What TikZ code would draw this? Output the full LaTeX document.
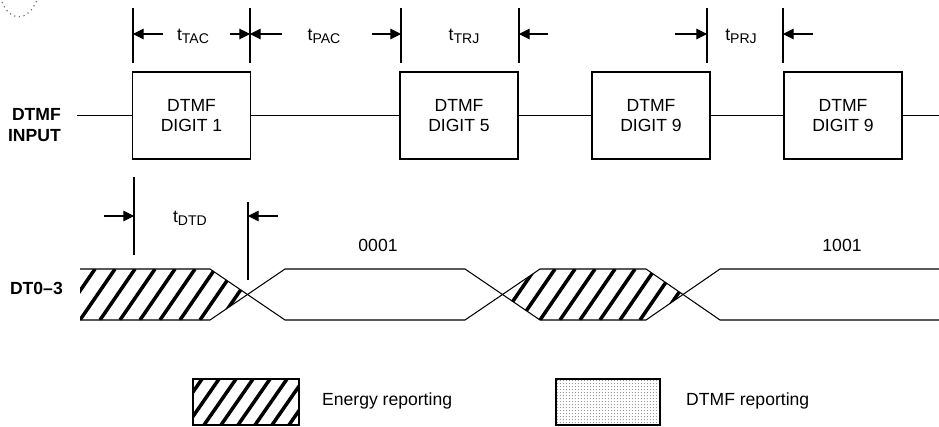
\documentclass[tikz,border=0pt]{standalone}
\usepackage{fontspec}
\setmainfont{Liberation Sans}
\usetikzlibrary{arrows.meta,patterns}
\pgfdeclarepatternformonly{finedots}{\pgfpointorigin}{\pgfpoint{1.8pt}{1.8pt}}{\pgfpoint{1.8pt}{1.8pt}}{\pgfpathcircle{\pgfpoint{0.9pt}{0.9pt}}{0.35pt}\pgfusepath{fill}}
\newcommand{\tsub}[1]{t\raisebox{-0.35ex}{\fontsize{8}{9}\selectfont #1}}

\begin{document}
\begin{tikzpicture}[x=0.02cm,y=-0.02cm,
    font=\fontsize{10}{11.5}\selectfont,
    lbl/.style={font=\bfseries\fontsize{10}{11.5}\selectfont,anchor=east,align=right},
    digit/.style={draw,line width=0.6pt,minimum width=2.36cm,minimum height=1.74cm,align=center},
    dimarr/.style={-{Triangle[length=6pt,width=6pt]},line width=0.6pt},
    sig/.style={line width=0.6pt},
    hatch/.style={line width=2pt}]
    \useasboundingbox (0,0) rectangle (939,426);
    \draw[dotted,line width=0.7pt,black!55] (2,2) .. controls (10,22) and (28,22) .. (37,0);
    % dtmf input
    \node[lbl] (inlbl) at (67,125) {DTMF\\INPUT};
    \node[digit] (d1) at (191.5,115.5) {DTMF\\DIGIT 1};
    \node[digit] (d5) at (459,115.5) {DTMF\\DIGIT 5};
    \node[digit] (d9a) at (651,115.5) {DTMF\\DIGIT 9};
    \node[digit] (d9b) at (843,115.5) {DTMF\\DIGIT 9};
    \coordinate (in) at (77,115.5);
    \coordinate (out) at (939,115.5);
    \draw[sig] (in) -- (d1) -- (d5) -- (d9a) -- (d9b) -- (out);
    \foreach \x in {133,250,401,519,707,783}{
    \draw[sig] (\x,8) -- (\x,63);
    }
    \foreach \s/\e in {163/133,230/250,282/250,372/401,548/519,675/707,813/783}{
    \draw[dimarr] (\s,34) -- (\e,34);
    }
    \node[anchor=base] (ttac) at (193,40) {\tsub{TAC}};
    \node[anchor=base] (tpac) at (324,40) {\tsub{PAC}};
    \node[anchor=base] (ttrj) at (464,40) {\tsub{TRJ}};
    \node[anchor=base] (tprj) at (741,40) {\tsub{PRJ}};
    % dt0-3 output
    \draw[sig] (134,177) -- (134,255);
    \draw[sig] (248,202) -- (248,280);
    \draw[dimarr] (104,216) -- (134,216);
    \draw[dimarr] (278,216) -- (248,216);
    \node[anchor=base] (tdtd) at (190,222) {\tsub{DTD}};
    \node[lbl] (dtlbl) at (69,288) {DT0--3};
    \begin{scope}
    \clip (80,269) -- (210,269) -- (247.5,294.5) -- (210,320) -- (80,320) -- cycle;
    \foreach \x in {60,80,...,260} \draw[hatch] (\x,320) -- ++(35,-51);
    \end{scope}
    \begin{scope}
    \clip (502.5,294.5) -- (540,269) -- (646,269) -- (683,294.5) -- (646,320) -- (540,320) -- cycle;
    \foreach \x in {480,500,...,700} \draw[hatch] (\x,320) -- ++(35,-51);
    \end{scope}
    \draw[sig] (80,269) -- (210,269) -- (285,320) -- (465,320) -- (540,269) -- (646,269) -- (720,320) -- (939,320);
    \draw[sig] (80,320) -- (210,320) -- (285,269) -- (465,269) -- (540,320) -- (646,320) -- (720,269) -- (939,269);
    \node (v1) at (378,245) {0001};
    \node (v2) at (842,245) {1001};
    % legend
    \begin{scope}
    \clip (193,379) rectangle (299,425);
    \foreach \x in {170,187,...,300} \draw[hatch] (\x,425) -- ++(32,-46);
    \end{scope}
    \draw[sig] (193,379) rectangle (299,425);
    \node[anchor=west] (leg1) at (316,401) {Energy reporting};
    \draw[sig,pattern=finedots,pattern color=black!70] (556,379) rectangle (660,425);
    \node[anchor=west] (leg2) at (680,401) {DTMF reporting};
\end{tikzpicture}
\end{document}
